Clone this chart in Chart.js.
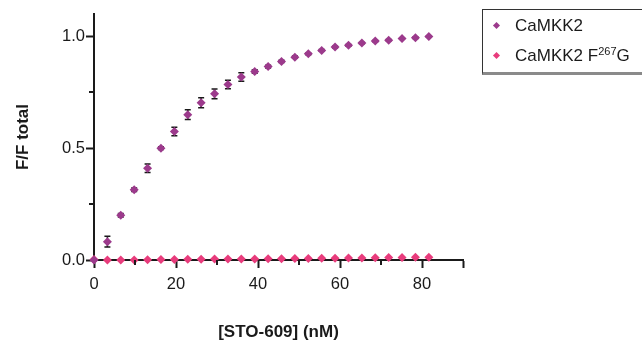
<!DOCTYPE html>
<html>
<head>
<meta charset="utf-8">
<script src="https://cdn.jsdelivr.net/npm/chart.js@4.4.0/dist/chart.umd.min.js"></script>
<style>
  body { margin: 0; background: #fff; }
  #wrap { position: relative; width: 642px; height: 347px; overflow: hidden; }
  #legend {
    position: absolute; left: 482px; top: 9px; width: 175px; height: 62px;
    border-left: 1px solid #333; border-top: 1px solid #333; border-bottom: 3px solid #8a8a8a;
    font-family: "Liberation Sans", Arial, sans-serif; font-size: 17px; color: #1a1a1a;
  }
  #legend .row { position: absolute; left: 0; height: 20px; line-height: 20px; white-space: nowrap; }
  #legend .mk { position: absolute; left: 11px; top: 7px; width: 5px; height: 5px; transform: rotate(45deg); }
  #legend .tx { position: absolute; left: 32px; top: 0; }
  #legend sup { font-size: 11px; vertical-align: 6px; line-height: 0; }
</style>
</head>
<body>
<div id="wrap">
  <canvas id="myChart" width="642" height="347"></canvas>
  <div id="legend"></div>
</div>
<script>
// STO-609 concentrations (nM)
let conc = [0, 3.27, 6.53, 9.8, 13.07, 16.33, 19.6, 22.87, 26.13, 29.4, 32.67, 35.93, 39.2,
            42.47, 45.73, 49, 52.27, 55.53, 58.8, 62.07, 65.33, 68.6, 71.87, 75.13, 78.4, 81.67];
let wtValues = [0, 0.082, 0.20, 0.314, 0.41, 0.50, 0.575, 0.65, 0.703, 0.743, 0.785, 0.818, 0.843,
                0.865, 0.888, 0.907, 0.922, 0.937, 0.952, 0.960, 0.970, 0.979, 0.983, 0.991, 0.994, 0.999];
let wtErrors = [0, 0.024, 0.008, 0.008, 0.019, 0.006, 0.019, 0.022, 0.022, 0.022, 0.019, 0.019, 0.008,
                0.006, 0.005, 0.005, 0.004, 0.004, 0.004, 0.004, 0.003, 0.003, 0.003, 0.003, 0.003, 0.003];
let mutValues = [0.002, 0, 0, 0, 0.001, 0.002, 0.002, 0.003, 0.003, 0.004, 0.004, 0.005, 0.005,
                 0.006, 0.006, 0.007, 0.007, 0.008, 0.008, 0.009, 0.009, 0.010, 0.011, 0.011, 0.012, 0.012];
let xTicks = [0, 10, 20, 30, 40, 50, 60, 70, 80, 90];
let xMinor = [10, 30, 50, 70];
let yTicks = [0, 0.25, 0.5, 0.75, 1.0];
let yMinor = [0.25, 0.75];

let seriesNames = ["CaMKK2", "CaMKK2 F<sup>267</sup>G"];
let seriesLabels = ["CaMKK2", "CaMKK2 F267G"];
let colors = ["#9c3a8c", "#e83c7c"];

const FONT = "'Liberation Sans', Arial, sans-serif";
const INK = "#1a1a1a";

function toPoints(vals) {
  return vals.map((v, i) => ({ x: conc[i], y: v }));
}

// error bars for the first series, drawn under the markers
const errorBars = {
  id: "errorBars",
  beforeDatasetsDraw(chart) {
    const ctx = chart.ctx;
    const xs = chart.scales.x, ys = chart.scales.y;
    ctx.save();
    ctx.strokeStyle = INK;
    ctx.lineWidth = 1.5;
    wtValues.forEach((v, i) => {
      let e = wtErrors[i];
      if (!e) return;
      let px = xs.getPixelForValue(conc[i]);
      let y1 = ys.getPixelForValue(v + e);
      let y2 = ys.getPixelForValue(v - e);
      ctx.beginPath();
      ctx.moveTo(px, y1); ctx.lineTo(px, y2);
      ctx.moveTo(px - 3, y1); ctx.lineTo(px + 3, y1);
      ctx.moveTo(px - 3, y2); ctx.lineTo(px + 3, y2);
      ctx.stroke();
    });
    ctx.restore();
  }
};

// short minor ticks
const minorTicks = {
  id: "minorTicks",
  afterDraw(chart) {
    const ctx = chart.ctx;
    const xs = chart.scales.x, ys = chart.scales.y;
    ctx.save();
    ctx.strokeStyle = INK;
    ctx.lineWidth = 2;
    ctx.beginPath();
    xMinor.forEach(v => {
      let px = Math.round(xs.getPixelForValue(v));
      ctx.moveTo(px, xs.top); ctx.lineTo(px, xs.top + 5);
    });
    yMinor.forEach(v => {
      let py = Math.round(ys.getPixelForValue(v));
      ctx.moveTo(ys.right, py); ctx.lineTo(ys.right - 5, py);
    });
    ctx.stroke();
    ctx.restore();
  }
};

const ctx = document.getElementById("myChart");

new Chart(ctx, {
  type: "scatter",
  data: {
    datasets: [
      {
        label: seriesLabels[0],
        data: toPoints(wtValues),
        backgroundColor: colors[0],
        borderWidth: 0,
        pointStyle: "rectRot",
        pointRadius: 4.5,
        order: 0,
        clip: false
      },
      {
        label: seriesLabels[1],
        data: toPoints(mutValues),
        backgroundColor: colors[1],
        borderWidth: 0,
        pointStyle: "rectRot",
        pointRadius: 4.5,
        order: 1,
        clip: false
      }
    ]
  },
  options: {
    responsive: false,
    animation: false,
    layout: { padding: { left: 0, right: 179, top: 14, bottom: 0 } },
    plugins: { legend: { display: false }, tooltip: { enabled: false } },
    scales: {
      x: {
        type: "linear",
        min: 0, max: 90,
        afterBuildTicks: s => { s.ticks = xTicks.map(v => ({ value: v })); },
        afterFit: s => { s.height = 87; },
        border: { display: true, color: INK, width: 2 },
        grid: {
          drawOnChartArea: false, tickLength: 8, tickWidth: 2,
          tickColor: c => (c.tick && xMinor.includes(c.tick.value)) ? "rgba(0,0,0,0)" : INK
        },
        ticks: {
          padding: 7, color: INK, maxRotation: 0, autoSkip: false,
          font: { family: FONT, size: 16.5 },
          callback: v => (v % 20 === 0 && v <= 80) ? String(v) : ""
        },
        title: {
          display: true, text: "[STO-609] (nM)", color: INK,
          font: { family: FONT, size: 17, weight: "bold" },
          padding: { top: 0, bottom: 4 }
        }
      },
      y: {
        type: "linear",
        min: 0, max: 1.1,
        afterBuildTicks: s => { s.ticks = yTicks.map(v => ({ value: v })); },
        afterFit: s => { s.width = 94; },
        border: { display: true, color: INK, width: 2 },
        grid: {
          drawOnChartArea: false, tickLength: 8, tickWidth: 2,
          tickColor: c => (c.tick && yMinor.includes(c.tick.value)) ? "rgba(0,0,0,0)" : INK
        },
        ticks: {
          padding: 1, color: INK, autoSkip: false,
          font: { family: FONT, size: 16.5 },
          callback: v => yMinor.includes(v) ? "" : v.toFixed(1)
        },
        title: {
          display: true, text: "F/F total", color: INK,
          font: { family: FONT, size: 17, weight: "bold" },
          padding: { top: 13, bottom: 0 }
        }
      }
    }
  },
  plugins: [errorBars, minorTicks]
});

// legend with superscript text
let legend = document.getElementById("legend");
seriesNames.forEach((name, i) => {
  let row = document.createElement("div");
  row.className = "row";
  row.style.top = (6 + i * 30) + "px";
  let mk = document.createElement("span");
  mk.className = "mk";
  mk.style.background = colors[i];
  let tx = document.createElement("span");
  tx.className = "tx";
  tx.innerHTML = name;
  row.appendChild(mk);
  row.appendChild(tx);
  legend.appendChild(row);
});
</script>
</body>
</html>
